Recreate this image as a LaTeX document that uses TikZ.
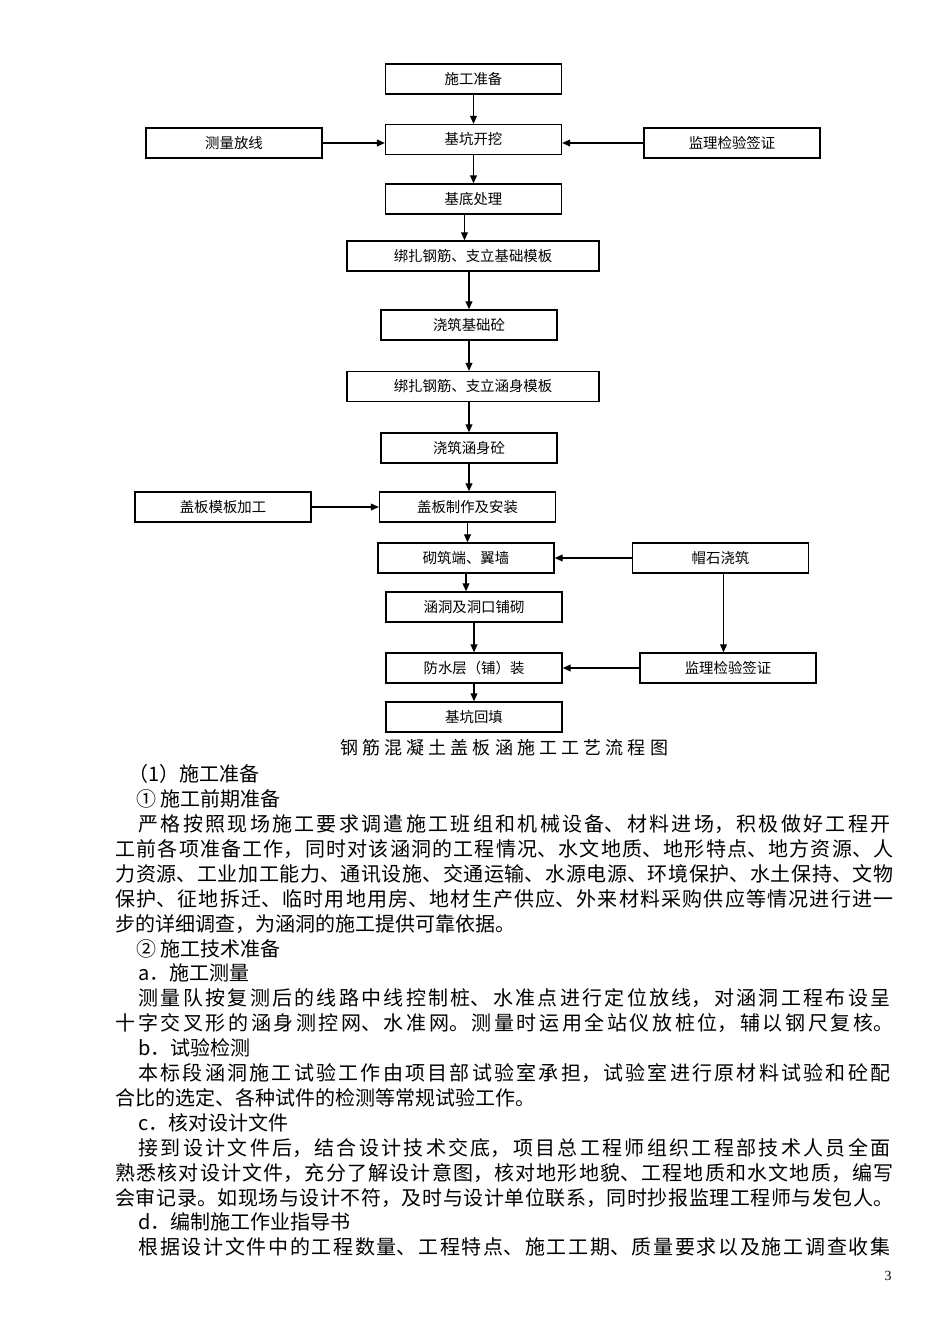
\documentclass[tikz,border=0pt]{standalone}
\usepackage{fontspec}
\setmainfont{Noto Sans CJK SC}
\newfontfamily\pagenumfont{Liberation Serif}
\usepackage{tikz}
\usetikzlibrary{arrows.meta}
\XeTeXlinebreaklocale "zh"
\XeTeXlinebreakskip=0pt plus 3pt minus 0.6pt
\newcommand{\spreadline}[2]{\parbox{#1}{\parindent=0pt\parfillskip=0pt\tolerance=9000\relax #2}}
\newcommand{\fullline}{389pt}
\newcommand{\indentline}{376pt}

\begin{document}
\begin{tikzpicture}[x=0.5pt, y=-0.5pt,
                    every node/.style={inner sep=0pt},
                    stepbox/.style={
                        draw, line width=0.65pt,
                        minimum width=88pt, minimum height=15pt,
                        font=\fontsize{7.2}{8}\selectfont
                    },
                    widebox/.style={stepbox, minimum width=126pt},
                    flow/.style={line width=0.6pt, -{Triangle[length=4pt,width=3.4pt]}},
                    bodytext/.style={anchor=west, font=\fontsize{10}{12}\selectfont}]

    \useasboundingbox (0,0) rectangle (950,1344);

    \node[stepbox] (prep)   at (473.5,79)  {施工准备};
    \node[stepbox] (pit)    at (473.5,139.5) {基坑开挖};
    \node[stepbox] (survey) at (234,143)   {测量放线};
    \node[stepbox] (check1) at (732,143)   {监理检验签证};
    \node[stepbox] (base)   at (473.5,199) {基底处理};
    \node[widebox] (rebar1) at (473,256)   {绑扎钢筋、支立基础模板};
    \node[stepbox] (pour1)  at (469,325)   {浇筑基础砼};
    \node[widebox] (rebar2) at (473,386.5) {绑扎钢筋、支立涵身模板};
    \node[stepbox] (pour2)  at (469,448)   {浇筑涵身砼};
    \node[stepbox] (form)   at (223,507)   {盖板模板加工};
    \node[stepbox] (slab)   at (467.5,507) {盖板制作及安装};
    \node[stepbox] (wall)   at (466,558)   {砌筑端、翼墙};
    \node[stepbox] (cap)    at (720.5,558) {帽石浇筑};
    \node[stepbox] (pave)   at (474,607)   {涵洞及洞口铺砌};
    \node[stepbox] (proof)  at (474,668)   {防水层（铺）装};
    \node[stepbox] (check2) at (728,668)   {监理检验签证};
    \node[stepbox] (fill)   at (474,717)   {基坑回填};

    \draw[flow] (survey.east |- 0,143) -- (pit.west |- 0,143);
    \draw[flow] (check1.west) -- (check1.west -| pit.east);
    \draw[flow] (prep.south) -- (prep.south |- pit.north);
    \draw[flow] (pit.south) -- (pit.south |- base.north);
    \draw[flow] ([xshift=-4.5pt]base.south) -- ([xshift=-4.5pt]base.south |- rebar1.north);
    \draw[flow] (rebar1.south -| pour1.north) -- (pour1.north);
    \draw[flow] (pour1.south) -- (pour1.south |- rebar2.north);
    \draw[flow] (rebar2.south -| pour2.north) -- (pour2.north);
    \draw[flow] (pour2.south) -- (pour2.south |- slab.north);
    \draw[flow] (form.east) -- (slab.west);
    \draw[flow] (slab.south) -- (slab.south |- wall.north);
    \draw[flow] (cap.west) -- (wall.east);
    \draw[flow] (wall.south) -- (wall.south |- pave.north);
    \draw[flow] ([xshift=1.5pt]cap.south) -- ([xshift=1.5pt]cap.south |- check2.north);
    \draw[flow] (pave.south) -- (pave.south |- proof.north);
    \draw[flow] (check2.west) -- (proof.east);
    \draw[flow] (proof.south) -- (proof.south |- fill.north);

    \node[font=\fontsize{9}{10}\selectfont] (caption) at (504,748)
        {\spreadline{164pt}{钢筋混凝土盖板涵施工工艺流程图}};

    \node[bodytext] (h1)  at (128,774)  {（1）施工准备};
    \node[bodytext] (h2)  at (136,799)  {① 施工前期准备};
    \node[bodytext] (p1a) at (138,824)  {\spreadline{\indentline}{严格按照现场施工要求调遣施工班组和机械设备、材料进场，积极做好工程开}};
    \node[bodytext] (p1b) at (115,849)  {\spreadline{\fullline}{工前各项准备工作，同时对该涵洞的工程情况、水文地质、地形特点、地方资源、人}};
    \node[bodytext] (p1c) at (115,874)  {\spreadline{\fullline}{力资源、工业加工能力、通讯设施、交通运输、水源电源、环境保护、水土保持、文物}};
    \node[bodytext] (p1d) at (115,899)  {\spreadline{\fullline}{保护、征地拆迁、临时用地用房、地材生产供应、外来材料采购供应等情况进行进一}};
    \node[bodytext] (p1e) at (115,924)  {步的详细调查，为涵洞的施工提供可靠依据。};
    \node[bodytext] (h3)  at (136,949)  {② 施工技术准备};
    \node[bodytext] (h4)  at (138,973)  {a．施工测量};
    \node[bodytext] (p2a) at (138,998)  {\spreadline{\indentline}{测量队按复测后的线路中线控制桩、水准点进行定位放线，对涵洞工程布设呈}};
    \node[bodytext] (p2b) at (115,1023) {\spreadline{\fullline}{十字交叉形的涵身测控网、水准网。测量时运用全站仪放桩位，辅以钢尺复核。}};
    \node[bodytext] (h5)  at (138,1048) {b．试验检测};
    \node[bodytext] (p3a) at (138,1073) {\spreadline{\indentline}{本标段涵洞施工试验工作由项目部试验室承担，试验室进行原材料试验和砼配}};
    \node[bodytext] (p3b) at (115,1098) {合比的选定、各种试件的检测等常规试验工作。};
    \node[bodytext] (h6)  at (138,1123) {c．核对设计文件};
    \node[bodytext] (p4a) at (138,1148) {\spreadline{\indentline}{接到设计文件后，结合设计技术交底，项目总工程师组织工程部技术人员全面}};
    \node[bodytext] (p4b) at (115,1173) {\spreadline{\fullline}{熟悉核对设计文件，充分了解设计意图，核对地形地貌、工程地质和水文地质，编写}};
    \node[bodytext] (p4c) at (115,1198) {\spreadline{\fullline}{会审记录。如现场与设计不符，及时与设计单位联系，同时抄报监理工程师与发包人。}};
    \node[bodytext] (h7)  at (138,1222) {d．编制施工作业指导书};
    \node[bodytext] (p5a) at (138,1247) {\spreadline{\indentline}{根据设计文件中的工程数量、工程特点、施工工期、质量要求以及施工调查收集}};

    \node[font=\pagenumfont\fontsize{7}{8}\selectfont] (pagenum) at (888,1276) {3};

\end{tikzpicture}
\end{document}
